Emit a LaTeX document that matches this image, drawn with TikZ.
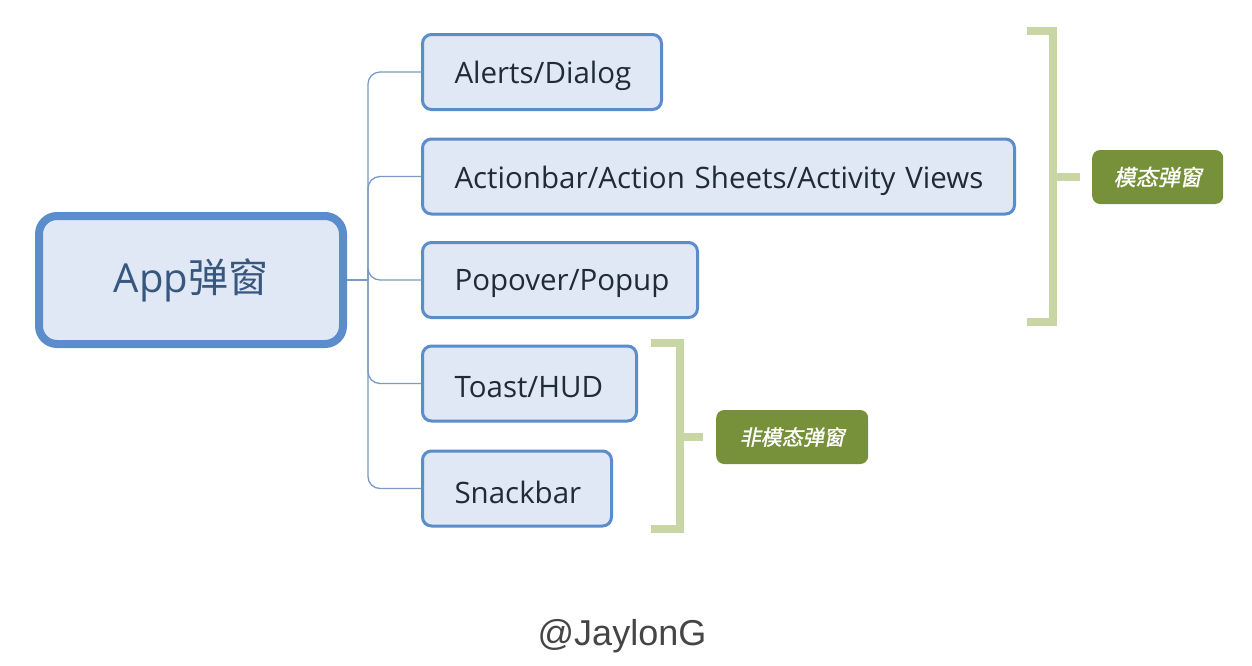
\documentclass[tikz,border=0pt]{standalone}
\usepackage{fontspec}
\setmainfont{Open Sans}
\newfontfamily\cjk{Noto Sans CJK SC}
\newfontfamily\cjktag[FakeSlant=0.2,FakeBold=1.2]{Noto Sans CJK SC}
\newfontfamily\wmfont{Liberation Sans}
\usetikzlibrary{calc}
\newcommand{\leaftext}[1]{\raisebox{-4pt}[\height][\depth]{#1}}
\definecolor{boxfill}{HTML}{DFE8F4}
\definecolor{boxline}{HTML}{5B8CCB}
\definecolor{conncol}{HTML}{7A9CC4}
\definecolor{txtcol}{HTML}{1F2B38}
\definecolor{roottxt}{HTML}{38577F}
\definecolor{brkcol}{HTML}{C8D6A6}
\definecolor{tagfill}{HTML}{76913A}
\definecolor{wmcol}{HTML}{454545}
\tikzset{
  leaf/.style={draw=boxline, fill=boxfill, line width=3pt, rounded corners=9pt,
    minimum height=75pt, anchor=west, inner xsep=32pt, inner ysep=0pt,
    text width=#1, align=left, text=txtcol,
    font=\fontsize{29.5}{34}\selectfont},
  rootbox/.style={draw=boxline, fill=boxfill, line width=8pt, rounded corners=18pt,
    minimum width=304pt, minimum height=128pt, inner sep=0pt, text=roottxt,
    font=\fontsize{40}{46}\selectfont},
  conn/.style={draw=conncol, line width=1.3pt, rounded corners=12pt},
  brk/.style={draw=brkcol, line width=8pt},
  tag/.style={fill=tagfill, rounded corners=8pt, minimum height=54pt, inner sep=0pt,
    text=white, anchor=west},
}
\begin{document}
\begin{tikzpicture}[x=1pt,y=-1pt]
\useasboundingbox (0,0) rectangle (1252,665);
\fill[white] (0,0) rectangle (1252,665);
% root
\node[rootbox] (root) at (191,280) {App{\cjk 弹窗}};
% leaves
\node[leaf=175pt] (a) at (421,72) {\leaftext{Alerts/Dialog}};
\node[leaf=528pt] (b) at (421,176.5) {\leaftext{Actionbar/Action Sheets/Activity Views}};
\node[leaf=211pt] (c) at (421,280) {\leaftext{Popover/Popup}};
\node[leaf=150pt] (d) at (421,383.5) {\leaftext{Toast/HUD}};
\node[leaf=125pt] (e) at (421,488.5) {\leaftext{Snackbar}};
% connectors
\coordinate (j) at (368,280);
\draw[conn] (root.east) -- (j);
\foreach \n in {a,b,c,d,e}{
  \draw[conn] (j) |- (\n.west);
}
% tags
\node[tag, minimum width=131pt, font=\cjktag\fontsize{22}{26}\selectfont] (m1) at (1092,177) {模态弹窗};
\node[tag, minimum width=152pt, font=\cjktag\fontsize{21}{25}\selectfont] (m2) at (716,437) {非模态弹窗};
% brackets
\coordinate (b1t) at (1027,31);
\coordinate (b1b) at (1027,322);
\coordinate (b1m) at (1053,177);
\draw[brk] (b1t) -| (b1m) |- (b1b);
\draw[brk] (b1m) -- ($(m1.west)+(-12,0)$);
\coordinate (b2t) at (651,343);
\coordinate (b2b) at (651,529);
\coordinate (b2m) at (680,437);
\draw[brk] (b2t) -| (b2m) |- (b2b);
\draw[brk] (b2m) -- ($(m2.west)+(-13,0)$);
% watermark
\node[text=wmcol, font=\wmfont\fontsize{36}{41}\selectfont] (wm) at (622,636) {@JaylonG};
\end{tikzpicture}
\end{document}
